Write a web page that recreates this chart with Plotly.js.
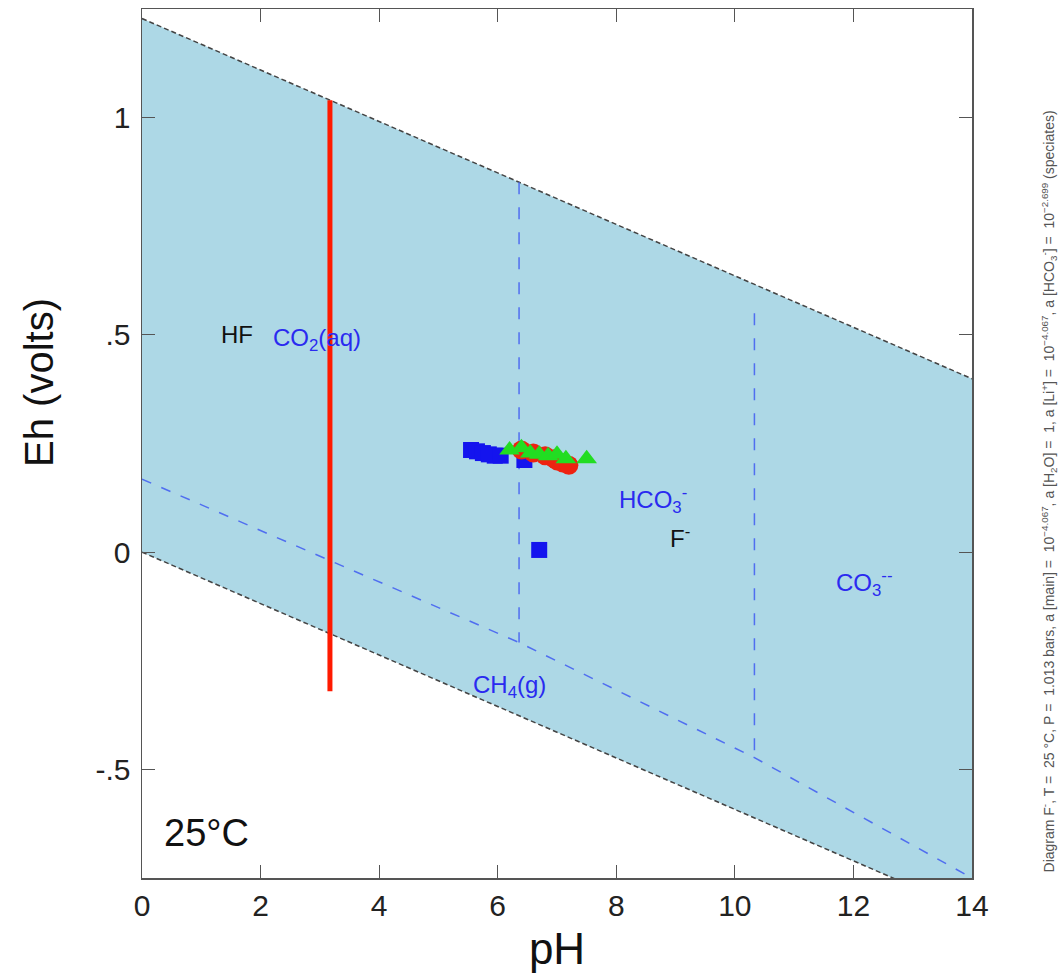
<!DOCTYPE html>
<html>
<head>
<meta charset="utf-8">
<script src="https://cdn.plot.ly/plotly-3.0.1.min.js"></script>
<style>html,body{margin:0;padding:0;background:#fff;overflow:hidden;}#chart{width:1064px;height:974px;}</style>
</head>
<body>
<div id="chart"></div>
<script>
// Water stability limits (pH, Eh)
const waterPH = [0, 14];
const upperEh = [1.228, 0.399];
const lowerEh = [0, -0.829];
const fieldPH = [0, 14, 14, 0];
const fieldEh = [1.228, 0.399, -0.829, 0];

// Carbon speciation boundaries (blue dashed)
const ch4PH = [0, 6.36, 10.33, 14];
const ch4Eh = [0.168, -0.208, -0.473, -0.75];
const co2hco3PH = [6.36, 6.36];
const co2hco3Eh = [0.851, -0.208];
const hco3co3PH = [10.33, 10.33];
const hco3co3Eh = [0.55, -0.473];

// HF / F- boundary (red)
const hfPH = [3.17, 3.17];
const hfEh = [1.04, -0.32];

// Samples
const sqPH = [5.55, 5.65, 5.75, 5.85, 5.95, 6.05, 6.45, 6.70];
const sqEh = [0.235, 0.232, 0.228, 0.225, 0.222, 0.222, 0.212, 0.005];
const ciPH = [6.40, 6.60, 6.80, 6.95, 7.00, 7.10, 7.20];
const ciEh = [0.235, 0.228, 0.222, 0.215, 0.210, 0.205, 0.200];
const trPH = [6.20, 6.40, 6.55, 6.70, 6.85, 7.00, 7.15, 7.50];
const trEh = [0.235, 0.240, 0.228, 0.225, 0.222, 0.225, 0.215, 0.215];

// Tick labels
const xTicks = [0, 2, 4, 6, 8, 10, 12, 14];
const xTickText = ['0', '2', '4', '6', '8', '10', '12', '14'];
const yTicks = [-0.5, 0, 0.5, 1];
const yTickText = ['-.5', '0', '.5', '1'];

// Field labels
const labText = ['HF', 'CO<sub>2</sub>(aq)', 'HCO<sub>3</sub><sup>-</sup>', 'F<sup>-</sup>', 'CO<sub>3</sub><sup>--</sup>', 'CH<sub>4</sub>(g)'];
const labPH = [1.6, 2.95, 8.62, 9.07, 12.18, 6.2];
const labEh = [0.5, 0.49, 0.12, 0.035, -0.07, -0.31];
const labColor = ['#111', '#2a2af0', '#2a2af0', '#111', '#2a2af0', '#2a2af0'];

const FONT = 'Liberation Sans, Arial, sans-serif';
const blueDash = 'rgb(80,110,240)';
const traces = [
  {x: fieldPH, y: fieldEh, mode: 'lines', fill: 'toself', fillcolor: '#ADD8E6', line: {width: 0}, hoverinfo: 'skip'},
  {x: waterPH, y: upperEh, mode: 'lines', line: {color: '#444', width: 1.5, dash: '5px,3px'}},
  {x: waterPH, y: lowerEh, mode: 'lines', line: {color: '#444', width: 1.5, dash: '5px,3px'}},
  {x: ch4PH, y: ch4Eh, mode: 'lines', line: {color: blueDash, width: 1.5, dash: '10px,11px'}},
  {x: co2hco3PH, y: co2hco3Eh, mode: 'lines', line: {color: blueDash, width: 1.5, dash: '12px,13px'}},
  {x: hco3co3PH, y: hco3co3Eh, mode: 'lines', line: {color: blueDash, width: 1.5, dash: '12px,13px'}},
  {x: hfPH, y: hfEh, mode: 'lines', line: {color: '#ff1a00', width: 5}},
  {x: sqPH, y: sqEh, mode: 'markers', marker: {symbol: 'square', size: 16, color: '#1414ee'}},
  {x: ciPH, y: ciEh, mode: 'markers', marker: {symbol: 'circle', size: 19, color: '#ee2211'}},
  {x: trPH, y: trEh, mode: 'markers', marker: {symbol: 'triangle-up', size: 18, color: '#22dd22'}}
];

const annotations = labText.map((t, i) => ({
  x: labPH[i], y: labEh[i], xref: 'x', yref: 'y', text: t, showarrow: false,
  font: {family: FONT, size: 24, color: labColor[i]}
}));
annotations.push({
  x: 0.33, y: 0.025, xref: 'x', yref: 'paper', text: '25°C', showarrow: false, xanchor: 'left', yanchor: 'bottom',
  font: {family: FONT, size: 38, color: '#111'}
});
annotations.push({
  x: -0.125, y: 0.57, xref: 'paper', yref: 'paper', text: 'Eh (volts)', showarrow: false, textangle: -90,
  xanchor: 'center', yanchor: 'middle',
  font: {family: FONT, size: 40, color: '#111'}
});
const S = '&nbsp;=&nbsp;&nbsp;';
annotations.push({
  x: 1.093, y: 0.445, xref: 'paper', yref: 'paper', textangle: -90, showarrow: false,
  xanchor: 'center', yanchor: 'middle',
  text: 'Diagram F<sup>-</sup>, T' + S + '25 °C, P' + S + '1.013 bars, a [main]' + S + '10<sup>−4.067</sup>, a [H<sub>2</sub>O]' + S + '1, a [Li<sup>+</sup>]' + S + '10<sup>−4.067</sup>, a [HCO<sub>3</sub><sup>-</sup>]' + S + '10<sup>−2.699</sup> (speciates)',
  font: {family: FONT, size: 14, color: '#555'}
});

const axisCommon = {
  showgrid: false, zeroline: false, showline: true, mirror: 'ticks', linecolor: '#555', linewidth: 1.5,
  ticks: 'inside', ticklen: 13, tickcolor: '#555', tickwidth: 1,
  tickfont: {family: FONT, size: 30, color: '#222'}
};

const layout = {
  width: 1064, height: 974, autosize: false,
  margin: {l: 142, r: 92, t: 9, b: 96},
  paper_bgcolor: '#fff', plot_bgcolor: '#fff', showlegend: false,
  xaxis: Object.assign({}, axisCommon, {
    range: [0, 14], tickvals: xTicks, ticktext: xTickText, ticklabelstandoff: 0,
    title: {text: 'pH', font: {family: FONT, size: 44, color: '#111'}, standoff: 12}
  }),
  yaxis: Object.assign({}, axisCommon, {
    range: [-0.75, 1.25], tickvals: yTicks, ticktext: yTickText, ticklabelstandoff: 4
  }),
  annotations: annotations
};

Plotly.newPlot('chart', traces, layout, {displayModeBar: false, staticPlot: true});
</script>
</body>
</html>
